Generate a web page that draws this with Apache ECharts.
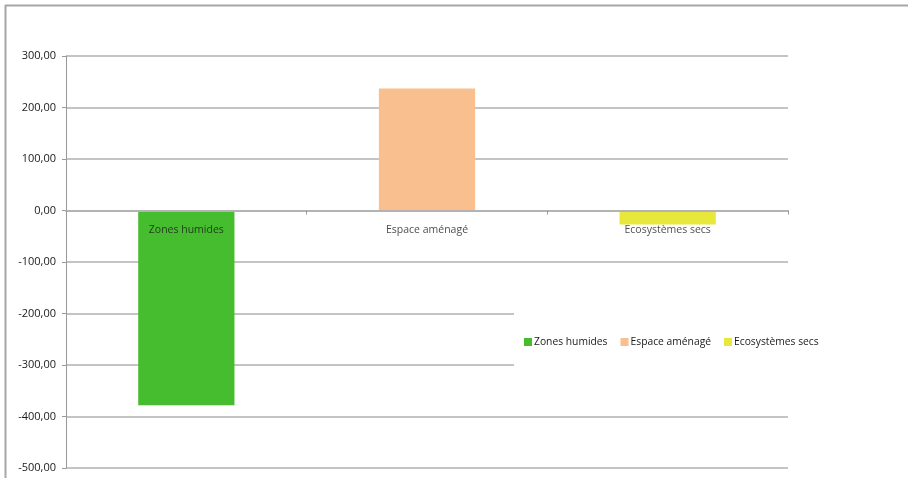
<!DOCTYPE html>
<html><head><meta charset="utf-8">
<script src="https://cdn.jsdelivr.net/npm/echarts@6/dist/echarts.min.js"></script>
<style>html,body{margin:0;padding:0;background:#fff;}#c{width:908px;height:478px;}</style>
</head><body><div id="c"></div>
<script>
const categories = ['Zones humides', 'Espace aménagé', 'Ecosystèmes secs'];
const values = [-378, 237, -27];
const colors = ['#46bd2e', '#f9bf8f', '#e8e83c'];
const yMin = -500, yMax = 300, yStep = 100;

const series = categories.map((name, i) => ({
  name: name,
  type: 'bar',
  stack: 'all',
  barWidth: '40%',
  itemStyle: { color: colors[i] },
  data: categories.map((c, j) => (j === i ? values[i] : null)),
  emphasis: { disabled: true }
}));
series.push({
  type: 'scatter',
  symbolSize: 0,
  z: 20,
  silent: true,
  data: categories.map(c => [c, 0]),
  label: {
    show: true, position: 'bottom', distance: 14,
    formatter: p => p.value[0],
    color: '#1a1a1a', fontSize: 10.5, fontFamily: 'Open Sans'
  },
  emphasis: { disabled: true }
});

const chart = echarts.init(document.getElementById('c'));
chart.setOption({
  animation: false,
  backgroundColor: '#fff',
  grid: { left: 66, right: 120, top: 56, bottom: 10, containLabel: false, outerBoundsMode: 'none' },
  xAxis: {
    type: 'category',
    data: categories,
    z: 10,
    axisLine: { onZero: true, lineStyle: { color: '#b3b3b3', width: 2 } },
    axisTick: { show: true, alignWithLabel: false, length: 4, lineStyle: { color: '#999', width: 1 } },
    axisLabel: { show: false },
    splitLine: { show: false }
  },
  yAxis: {
    type: 'value',
    min: yMin, max: yMax, interval: yStep,
    axisLine: { show: true, lineStyle: { color: '#999', width: 1 } },
    axisTick: { show: true, length: 4, lineStyle: { color: '#999' } },
    axisLabel: {
      color: '#1a1a1a', fontSize: 11, fontFamily: 'Open Sans', margin: 10,
      formatter: v => v.toFixed(2).replace('.', ',')
    },
    splitLine: { show: true, lineStyle: { color: '#c4c4c4', width: 2 } }
  },
  legend: {
    data: categories,
    left: 514, top: 270,
    orient: 'horizontal',
    backgroundColor: '#fff',
    padding: [67, 30, 58, 10],
    itemWidth: 8, itemHeight: 8, itemGap: 13,
    icon: 'rect',
    textStyle: { color: '#1a1a1a', fontSize: 10.3, fontFamily: 'Open Sans', padding: [0, 0, 0, -3] },
    selectedMode: false
  },
  graphic: [
    { type: 'line', silent: true, shape: { x1: 5, y1: 5.5, x2: 908, y2: 5.5 }, style: { stroke: '#a6a6a6', lineWidth: 2 } },
    { type: 'line', silent: true, shape: { x1: 5.5, y1: 5, x2: 5.5, y2: 478 }, style: { stroke: '#a6a6a6', lineWidth: 2 } }
  ],
  series: series
});
</script></body></html>
